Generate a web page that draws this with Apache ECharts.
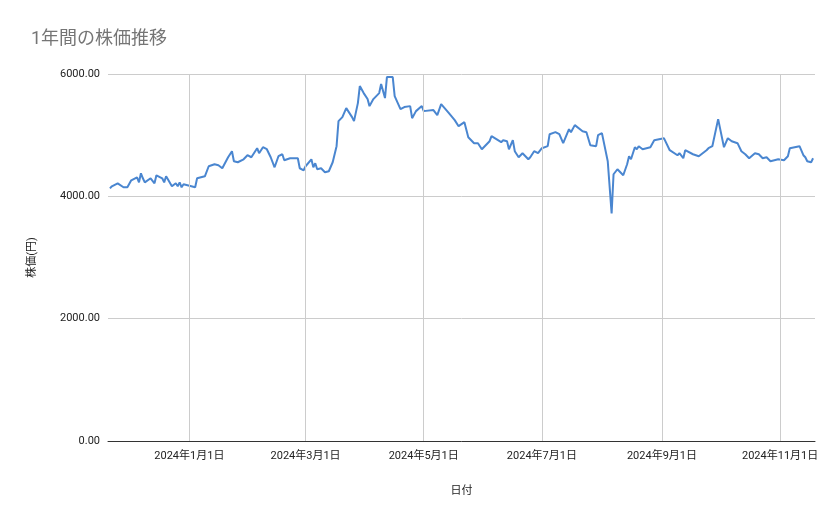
<!DOCTYPE html>
<html><head><meta charset="utf-8">
<script src="https://cdn.jsdelivr.net/npm/echarts@6/dist/echarts.min.js"></script>
<style>html,body{margin:0;padding:0;background:#fff}#c{width:839px;height:519px}</style>
</head><body><div id="c"></div>
<script>
// day offsets from 2023-11-20
const days = [1,2,5,8,10,12,15,16,17,18,19,22,23,24,25,28,29,30,31,33,35,36,37,38,39,45,46,50,52,55,57,59,62,64,65,67,70,72,74,77,78,80,82,84,86,87,88,90,91,94,98,99,101,102,105,106,107,108,110,112,114,116,118,119,121,123,126,127,129,130,132,134,135,137,140,141,143,144,147,148,151,153,156,157,159,162,163,168,170,172,176,179,181,184,186,189,191,193,197,198,199,203,204,206,207,209,210,212,214,217,218,220,222,224,227,228,231,233,235,238,239,241,245,247,249,252,253,255,258,260,261,263,266,268,269,270,272,273,274,276,280,282,283,287,288,290,294,295,297,298,302,305,309,310,312,315,318,320,322,325,327,329,331,334,335,336,338,340,342,344,346,349,351,352,357,358,359,360,361,363,364];
const prices = [4131,4164,4213,4148,4148,4262,4311,4229,4377,4295,4229,4295,4295,4213,4344,4295,4229,4328,4328,4164,4213,4164,4229,4148,4197,4148,4295,4328,4492,4524,4508,4459,4639,4738,4574,4557,4606,4672,4639,4787,4705,4803,4770,4639,4475,4492,4656,4688,4590,4623,4623,4459,4426,4492,4606,4475,4541,4443,4459,4393,4410,4557,4820,5229,5295,5442,5295,5229,5524,5803,5688,5590,5475,5590,5688,5836,5606,5950,5950,5639,5426,5459,5475,5278,5393,5475,5393,5410,5328,5508,5360,5246,5147,5213,4967,4869,4869,4770,4901,4983,4967,4885,4918,4901,4770,4918,4738,4639,4705,4606,4639,4738,4705,4787,4820,5016,5049,5016,4869,5098,5049,5164,5065,5049,4836,4820,5000,5033,4574,3721,4361,4443,4344,4524,4656,4606,4803,4770,4820,4770,4803,4918,4918,4951,4951,4754,4672,4705,4623,4754,4688,4656,4754,4787,4820,5262,4803,4951,4901,4869,4738,4688,4623,4705,4688,4688,4623,4639,4574,4590,4606,4590,4656,4787,4820,4852,4672,4639,4574,4557,4623];
const tickDays = [42,102,163,224,286,347];
const yTicks = [0,2000,4000,6000];
const base = Date.UTC(2023,10,20);
const fmtDate = d => { const t = new Date(base + d*86400000); return t.getUTCFullYear()+'年'+(t.getUTCMonth()+1)+'月'+t.getUTCDate()+'日'; };
const data = days.map((d,i)=>[d,prices[i]]);
const chart = echarts.init(document.getElementById('c'));
chart.setOption({
  animation:false,
  textStyle:{fontFamily:'Roboto, "Noto Sans CJK JP", sans-serif'},
  title:{text:'1年間の株価推移',left:26,top:26,textStyle:{fontSize:18,fontWeight:'normal',color:'#757575',fontFamily:'Roboto, "Noto Sans CJK JP", sans-serif'}},
  grid:{left:108,right:24,top:74,bottom:78},
  xAxis:{type:'value',min:0,max:365,name:'日付',nameLocation:'middle',nameGap:45,
    nameTextStyle:{fontSize:11,color:'#222'},
    axisLine:{show:true,lineStyle:{color:'#333'}},axisTick:{show:false},splitLine:{show:false},
    axisLabel:{customValues:tickDays,formatter:v=>fmtDate(v),fontSize:11,color:'#222',margin:10}},
  yAxis:{type:'value',min:0,max:6000,interval:2000,name:'株価(円)',nameLocation:'middle',nameGap:70,
    nameTextStyle:{fontSize:11,color:'#222'},
    axisLine:{show:false},axisTick:{show:false},
    splitLine:{lineStyle:{color:'#ccc'}},
    axisLabel:{formatter:v=>v.toFixed(2),fontSize:11,color:'#222',margin:8}},
  series:[{type:'line',data:data,showSymbol:false,lineStyle:{color:'#4a86d0',width:2},itemStyle:{color:'#4a86d0'},
    markLine:{silent:true,symbol:'none',label:{show:false},lineStyle:{color:'#ccc',type:'solid',width:1},
      data:tickDays.map(d=>({xAxis:d}))}}]
});
</script></body></html>
